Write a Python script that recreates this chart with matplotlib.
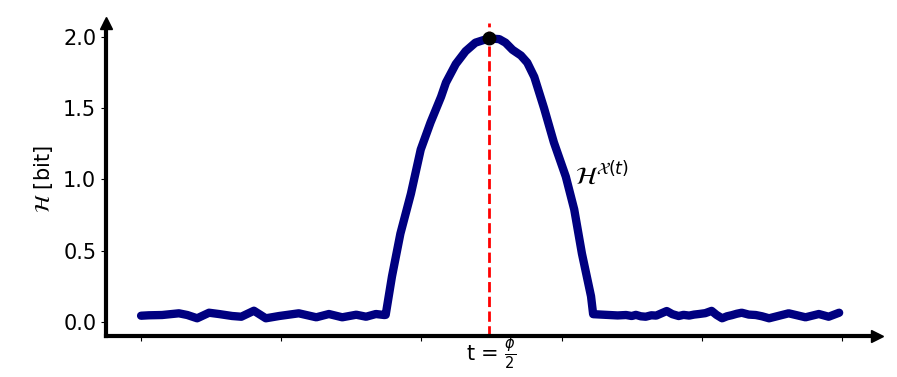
import matplotlib
matplotlib.use("Agg")
import matplotlib.pyplot as plt

# Data
t_left = [0, 1.1, 3.0, 5.4, 6.6, 8.0, 9.7, 11.1, 13.0, 14.3, 16.1, 17.8, 19.7, 22.5, 25.0, 26.8, 28.7,
          30.7, 32.1, 33.5, 34.7]
h_left = [0.044, 0.047, 0.049, 0.061, 0.049, 0.026, 0.065, 0.056, 0.042, 0.037, 0.079, 0.026, 0.042,
          0.061, 0.033, 0.056, 0.033, 0.051, 0.037, 0.056, 0.049]

t_rise = [34.9, 35.8, 37.0, 38.5, 39.9, 41.3, 42.8, 43.5, 44.9, 46.3, 47.7]
h_rise = [0.05, 0.32, 0.62, 0.90, 1.21, 1.40, 1.58, 1.68, 1.81, 1.90, 1.96]

t_peak = 49.6
h_peak = 1.99

t_fall = [51.1, 52.0, 53.0, 54.2, 55.1, 56.1, 57.5, 58.9, 60.6, 61.8, 62.9, 64.2, 64.5]
h_fall = [1.985, 1.96, 1.91, 1.87, 1.82, 1.72, 1.50, 1.26, 1.02, 0.79, 0.48, 0.18, 0.055]

t_right = [66.8, 68.0, 69.2, 70.0, 70.6, 71.3, 72.0, 72.8, 73.5, 74.3, 75.0, 75.8, 76.7, 77.4, 78.2,
           78.9, 79.6, 80.5, 81.4, 82.1, 82.9, 83.6, 84.3, 85.0, 85.7, 86.7, 87.7, 88.6, 89.6, 92.4,
           94.8, 96.7, 98.1, 99.6]
h_right = [0.049, 0.046, 0.049, 0.042, 0.05, 0.04, 0.037, 0.047, 0.045, 0.062, 0.077, 0.055, 0.042,
           0.05, 0.045, 0.052, 0.056, 0.062, 0.078, 0.05, 0.026, 0.04, 0.048, 0.058, 0.065, 0.052,
           0.049, 0.04, 0.026, 0.061, 0.033, 0.056, 0.037, 0.065]

y_ticks = [0.0, 0.5, 1.0, 1.5, 2.0]
x_ticks = [0, 20, 40, 60, 80, 100]

t = t_left + t_rise + [t_peak] + t_fall + t_right
h = h_left + h_rise + [h_peak] + h_fall + h_right

fig = plt.figure(figsize=(8.97, 3.77), dpi=100)
ax = fig.add_axes([0.1182, 0.1081, 0.8595, 0.8316])

ax.plot(t, h, color="navy", lw=6, solid_capstyle="round", solid_joinstyle="round")
ax.axvline(t_peak, color="red", ls="--", lw=2)
ax.plot([t_peak], [h_peak], "o", color="black", ms=9, zorder=5)

ax.text(61.9, 1.03, r"$\mathcal{H}^{\mathcal{X}(t)}$", fontsize=18, ha="left", va="center")

ax.set_xlim(-5, 105)
ax.set_ylim(-0.1, 2.1)
ax.set_xticks(x_ticks)
ax.set_xticklabels([])
ax.set_yticks(y_ticks)
ax.set_yticklabels([f"{v:.1f}" for v in y_ticks], fontsize=15)
ax.set_ylabel(r"$\mathcal{H}$ [bit]", fontsize=15, labelpad=6)
ax.set_xlabel(r"t = $\frac{\phi}{2}$", fontsize=15, labelpad=-8)

for s in ["top", "right"]:
    ax.spines[s].set_visible(False)
for s in ["left", "bottom"]:
    ax.spines[s].set_linewidth(3)

ax.plot(1, 0, ">k", transform=ax.transAxes, clip_on=False, ms=8)
ax.plot(0, 1, "^k", transform=ax.transAxes, clip_on=False, ms=8)

fig.savefig("out.png", dpi=100)
